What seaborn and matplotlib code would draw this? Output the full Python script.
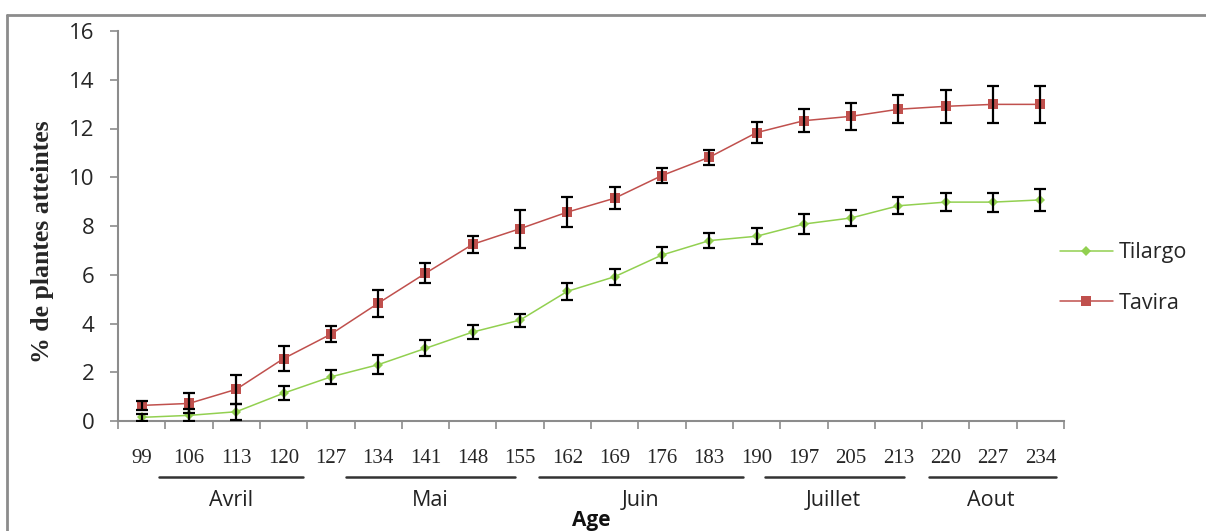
import numpy as np
import pandas as pd
import matplotlib
matplotlib.use("Agg")
import matplotlib.pyplot as plt
import matplotlib.transforms as mtransforms
from matplotlib.lines import Line2D
import seaborn as sns

# ---------------- data ----------------
ages = ["99", "106", "113", "120", "127", "134", "141", "148", "155", "162",
        "169", "176", "183", "190", "197", "205", "213", "220", "227", "234"]
tilargo = [0.15, 0.23, 0.38, 1.14, 1.81, 2.31, 2.98, 3.65, 4.14, 5.32,
           5.92, 6.81, 7.40, 7.58, 8.08, 8.33, 8.83, 8.98, 8.98, 9.07]
tilargo_err = [0.15, 0.25, 0.33, 0.29, 0.29, 0.38, 0.33, 0.29, 0.27, 0.36,
               0.32, 0.34, 0.31, 0.33, 0.41, 0.34, 0.34, 0.38, 0.39, 0.44]
tavira = [0.64, 0.72, 1.30, 2.56, 3.56, 4.83, 6.06, 7.25, 7.89, 8.57,
          9.14, 10.07, 10.82, 11.83, 12.32, 12.50, 12.79, 12.91, 12.99, 12.99]
tavira_err = [0.18, 0.41, 0.59, 0.52, 0.33, 0.55, 0.41, 0.36, 0.78, 0.62,
              0.45, 0.31, 0.30, 0.44, 0.48, 0.55, 0.58, 0.67, 0.75, 0.75]
series_names = ["Tilargo", "Tavira"]
months = ["Avril", "Mai", "Juin", "Juillet", "Aout"]
y_label = "% de plantes atteintes"
x_label = "Age"

# ---------------- layout / style ----------------
W, H, DPI = 1206, 531, 100
green = "#92D050"
red = "#C0504D"
spine_col = "#8C8C8C"
# month underline spans (in category-position units) and label centres
month_spans = [(0.36, 3.42), (4.32, 7.89), (8.41, 12.71), (13.17, 16.11), (16.65, 19.33)]
month_centres = [1.89, 6.10, 10.54, 14.63, 17.96]

sns.set_theme(style="white")
plt.rcParams["font.family"] = ["Open Sans", "DejaVu Sans"]

fig = plt.figure(figsize=(W / DPI, H / DPI), dpi=DPI)
ax = fig.add_axes([118 / W, 1 - 421 / H, (1064 - 118) / W, (421 - 31) / H])

pos = np.arange(len(ages))
df = pd.DataFrame({
    "pos": np.concatenate([pos, pos]),
    "value": tilargo + tavira,
    "variety": [series_names[0]] * len(ages) + [series_names[1]] * len(ages),
})

sns.lineplot(data=df, x="pos", y="value", hue="variety", style="variety",
             palette={series_names[0]: green, series_names[1]: red},
             markers={series_names[0]: "D", series_names[1]: "s"},
             dashes=False, linewidth=1.1, ax=ax, legend=False,
             markeredgewidth=0, zorder=3)
for ln, ms in zip(ax.lines, [5.0, 7.0]):
    ln.set_markersize(ms)

ax.errorbar(pos, tilargo, yerr=tilargo_err, fmt="none", ecolor="black",
            elinewidth=1.6, capsize=4, capthick=1.6, zorder=4)
ax.errorbar(pos, tavira, yerr=tavira_err, fmt="none", ecolor="black",
            elinewidth=1.6, capsize=4, capthick=1.6, zorder=4)

# axes
ax.set_xlim(-0.5, len(ages) - 0.5)
ax.set_ylim(0, 16)
ax.set_yticks(np.arange(0, 17, 2))
ax.set_yticklabels([str(v) for v in range(0, 17, 2)], fontsize=16)
ax.tick_params(axis="y", direction="out", length=6, width=1.2, color=spine_col,
               pad=11, left=True)

ax.set_xticks(np.arange(-0.5, len(ages), 1.0))
ax.set_xticklabels([])
ax.set_xticks(pos, minor=True)
ax.set_xticklabels(ages, minor=True, fontsize=15, family=["Liberation Serif", "DejaVu Serif"])
ax.tick_params(axis="x", which="major", direction="out", length=6, width=1.2,
               color=spine_col, bottom=True)
ax.tick_params(axis="x", which="minor", length=0, pad=20)

for s in ["top", "right"]:
    ax.spines[s].set_visible(False)
for s in ["left", "bottom"]:
    ax.spines[s].set_color(spine_col)
    ax.spines[s].set_linewidth(1.5)
ax.set_xlabel("")
ax.set_ylabel("")
ax.grid(False)

# y label
ax.text(-0.080, 0.46, y_label, transform=ax.transAxes, rotation=90,
        ha="center", va="center", fontsize=18.5, fontweight="bold",
        family=["Liberation Serif", "DejaVu Serif"])

# month spans & labels
trans = mtransforms.blended_transform_factory(ax.transData, ax.transAxes)
for (a, b), c, m in zip(month_spans, month_centres, months):
    ax.plot([a, b], [-0.1436, -0.1436], color="#333333", lw=1.8,
            transform=trans, clip_on=False)
    ax.text(c, -0.2026, m, transform=trans, ha="center", va="center",
            fontsize=15.5, family=["Open Sans", "DejaVu Sans"],
            color="#222222")
ax.text(0.5, -0.256, x_label, transform=ax.transAxes, ha="center", va="center",
        fontsize=15, fontweight="bold", color="#111111")

# legend
handles = [Line2D([], [], color=green, marker="D", markersize=5, lw=1.1, markeredgewidth=0),
           Line2D([], [], color=red, marker="s", markersize=7, lw=1.1, markeredgewidth=0)]
fig.legend(handles, series_names, loc="center left",
           bbox_to_anchor=(1060 / W, 1 - 278 / H), frameon=False, fontsize=15.5,
           handlelength=2.45, handletextpad=0.3, labelspacing=1.35,
           borderpad=0, borderaxespad=0)

# outer frame (top and left visible)
fig.add_artist(Line2D([7 / W, 7 / W], [1 - 15 / H, 0], transform=fig.transFigure,
                      color=spine_col, lw=2))
fig.add_artist(Line2D([7 / W, 1], [1 - 15 / H, 1 - 15 / H], transform=fig.transFigure,
                      color=spine_col, lw=2))

fig.savefig("out.png", dpi=DPI)
